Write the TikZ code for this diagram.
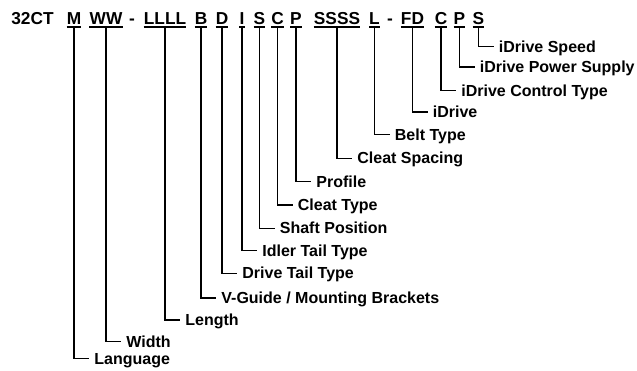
\documentclass[tikz,border=0pt]{standalone}
\usepackage{fontspec}
\setmainfont{Liberation Sans}
\begin{document}
\begin{tikzpicture}[x=1pt,y=-1pt,
  hdr/.style={font=\fontsize{17.3}{17}\selectfont\bfseries,inner sep=0pt,text height=12.4pt,text depth=0pt,anchor=south},
  lbl/.style={font=\fontsize{16}{16}\selectfont\bfseries,inner ysep=0pt,inner xsep=5.2pt,text height=11.4pt,text depth=0pt,anchor=west},
  ul/.style={line width=1.6pt},
  conn/.style={line width=1.5pt}]
\useasboundingbox (0,0) rectangle (637,371);
% header
\node[hdr] (h0) at (32.5,25) {32CT};
\node[hdr] (hM) at (74,25) {M};
\node[hdr] (hW) at (106,25) {WW};
\node[hdr] (hd1) at (132,25) {-};
\node[hdr] (hLen) at (165,25) {LLLL};
\node[hdr] (hB) at (201,25) {B};
\node[hdr] (hD) at (222,25) {D};
\node[hdr] (hI) at (242,25) {I};
\node[hdr] (hS) at (259.5,25) {S};
\node[hdr] (hC) at (277.5,25) {C};
\node[hdr] (hP) at (296,25) {P};
\node[hdr] (hSp) at (337,25) {SSSS};
\node[hdr] (hL) at (374.5,25) {L};
\node[hdr] (hd2) at (390,25) {-};
\node[hdr] (hFD) at (412.5,25) {FD};
\node[hdr] (hiC) at (441,25) {C};
\node[hdr] (hiP) at (459.5,25) {P};
\node[hdr] (hiS) at (478.5,25) {S};
% underlines
\foreach \n in {hM,hW,hLen,hB,hD,hI,hS,hC,hP,hSp,hL,hFD,hiC,hiP,hiS}
  \draw[ul] ([yshift=-2pt]\n.south west) -- ([yshift=-2pt]\n.south east);
% labels
\node[lbl] (liS) at (493.5,46.5) {iDrive Speed};
\node[lbl] (liP) at (474.5,67) {iDrive Power Supply};
\node[lbl] (liC) at (456,90.7) {iDrive Control Type};
\node[lbl] (lFD) at (427.5,112) {iDrive};
\node[lbl] (lL) at (389.5,134.5) {Belt Type};
\node[lbl] (lSp) at (352,158.3) {Cleat Spacing};
\node[lbl] (lP) at (311,181.7) {Profile};
\node[lbl] (lC) at (292.5,205) {Cleat Type};
\node[lbl] (lS) at (274.5,228.3) {Shaft Position};
\node[lbl] (lI) at (257,250.5) {Idler Tail Type};
\node[lbl] (lD) at (237,273.3) {Drive Tail Type};
\node[lbl] (lB) at (216,298) {V-Guide / Mounting Brackets};
\node[lbl] (lLen) at (180,320) {Length};
\node[lbl] (lW) at (121,341.7) {Width};
\node[lbl] (lM) at (89,358.3) {Language};
% connectors
\foreach \a/\b in {hiS/liS,hiP/liP,hiC/liC,hFD/lFD,hL/lL,hSp/lSp,hP/lP,hC/lC,hS/lS,hI/lI,hD/lD,hB/lB,hLen/lLen,hW/lW,hM/lM}
  \draw[conn] ([yshift=-2pt]\a.south) |- (\b.west);
\end{tikzpicture}
\end{document}
